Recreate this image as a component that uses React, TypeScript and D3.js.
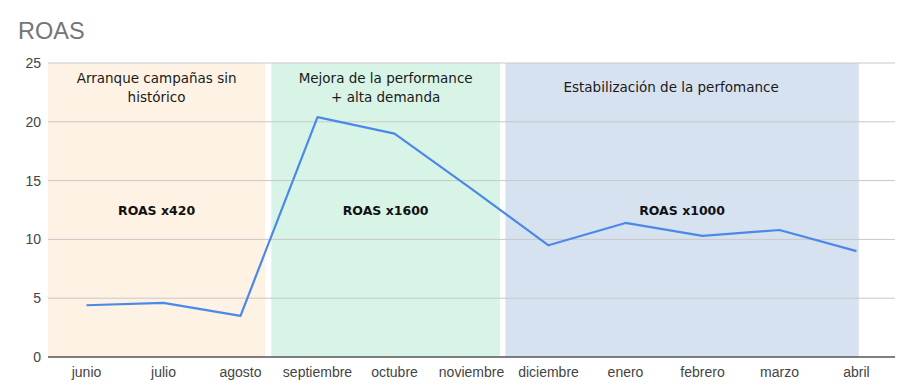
import React, { useEffect, useRef } from 'react';
import * as d3 from 'd3';

const months = ['junio', 'julio', 'agosto', 'septiembre', 'octubre', 'noviembre', 'diciembre', 'enero', 'febrero', 'marzo', 'abril'];
const roas = [4.4, 4.6, 3.5, 20.4, 19.0, 14.3, 9.5, 11.4, 10.3, 10.8, 9.0];
const yTicks = [0, 5, 10, 15, 20, 25];

// phases, spans given in category index units
const phaseNames = [['Arranque campañas sin', 'histórico'], ['Mejora de la performance', '+ alta demanda'], ['Estabilización de la perfomance']];
const phaseLabels = ['ROAS x420', 'ROAS x1600', 'ROAS x1000'];
const phaseStart = [-0.5, 2.40, 5.44];
const phaseEnd = [2.32, 5.37, 10.03];
const phaseColors = ['#fdf2e4', '#d8f4e6', '#d7e2f1'];

export default function App() {
  const ref = useRef<SVGSVGElement>(null);
  const width = 911;
  const height = 392;
  const margin = { top: 63, right: 16, bottom: 35, left: 48 };

  useEffect(() => {
    const svg = d3.select(ref.current);
    svg.selectAll('*').remove();

    const x = d3.scaleBand()
      .domain(months)
      .range([margin.left, width - margin.right])
      .padding(0);
    const xi = (i: number) => x(months[0])! + x.bandwidth() / 2 + i * x.step();

    const y = d3.scaleLinear()
      .domain([0, 25])
      .range([height - margin.bottom, margin.top]);

    // title
    svg.append('text')
      .attr('x', 18)
      .attr('y', 39)
      .attr('font-family', 'Liberation Sans, Arial, sans-serif')
      .attr('font-size', 23.5)
      .attr('fill', '#757575')
      .text('ROAS');

    // phase boxes
    svg.append('g')
      .selectAll('rect')
      .data(phaseColors)
      .enter()
      .append('rect')
      .attr('x', (d, i) => Math.max(margin.left, xi(phaseStart[i])))
      .attr('y', y(25))
      .attr('width', (d, i) => xi(phaseEnd[i]) - Math.max(margin.left, xi(phaseStart[i])))
      .attr('height', y(0) - y(25))
      .attr('fill', d => d);

    // gridlines
    svg.append('g')
      .selectAll('line')
      .data(yTicks.filter(t => t > 0))
      .enter()
      .append('line')
      .attr('x1', margin.left)
      .attr('x2', width - margin.right)
      .attr('y1', d => y(d))
      .attr('y2', d => y(d))
      .attr('stroke', '#c8c8c8')
      .attr('stroke-width', 1);

    // y tick labels
    svg.append('g')
      .selectAll('text')
      .data(yTicks)
      .enter()
      .append('text')
      .attr('x', 41)
      .attr('y', d => y(d) + 5)
      .attr('text-anchor', 'end')
      .attr('font-family', 'Liberation Sans, Arial, sans-serif')
      .attr('font-size', 14)
      .attr('fill', '#444')
      .text(d => d);

    // x axis
    svg.append('line')
      .attr('x1', margin.left)
      .attr('x2', width - margin.right)
      .attr('y1', y(0))
      .attr('y2', y(0))
      .attr('stroke', '#555')
      .attr('stroke-width', 1.5);

    svg.append('g')
      .selectAll('text')
      .data(months)
      .enter()
      .append('text')
      .attr('x', d => x(d)! + x.bandwidth() / 2)
      .attr('y', y(0) + 20)
      .attr('text-anchor', 'middle')
      .attr('font-family', 'Liberation Sans, Arial, sans-serif')
      .attr('font-size', 14)
      .attr('fill', '#444')
      .text(d => d);

    // phase texts
    const font = 'DejaVu Sans, sans-serif';
    phaseNames.forEach((lines, i) => {
      const cx = (Math.max(margin.left, xi(phaseStart[i])) + xi(phaseEnd[i])) / 2;
      const top = lines.length > 1 ? y(23.3) : y(22.5);
      lines.forEach((l, j) => {
        svg.append('text')
          .attr('x', i === 2 ? cx - 11 : cx)
          .attr('y', top + j * 19.5)
          .attr('text-anchor', 'middle')
          .attr('font-family', font)
          .attr('font-size', 13.5)
          .attr('fill', '#1a1a1a')
          .text(l);
      });
      svg.append('text')
        .attr('x', cx)
        .attr('y', y(12.1))
        .attr('text-anchor', 'middle')
        .attr('font-family', font)
        .attr('font-weight', 'bold')
        .attr('font-size', 12.5)
        .attr('fill', '#111')
        .text(phaseLabels[i]);
    });

    // line
    const line = d3.line<number>()
      .x((d, i) => x(months[i])! + x.bandwidth() / 2)
      .y(d => y(d));

    svg.append('path')
      .datum(roas)
      .attr('d', line)
      .attr('fill', 'none')
      .attr('stroke', '#4a89e8')
      .attr('stroke-width', 2.2)
      .attr('stroke-linejoin', 'round');
  }, []);

  return (
    <svg ref={ref} width={width} height={height}
      style={{ position: 'absolute', left: 0, top: 0, background: '#fff' }} />
  );
}
